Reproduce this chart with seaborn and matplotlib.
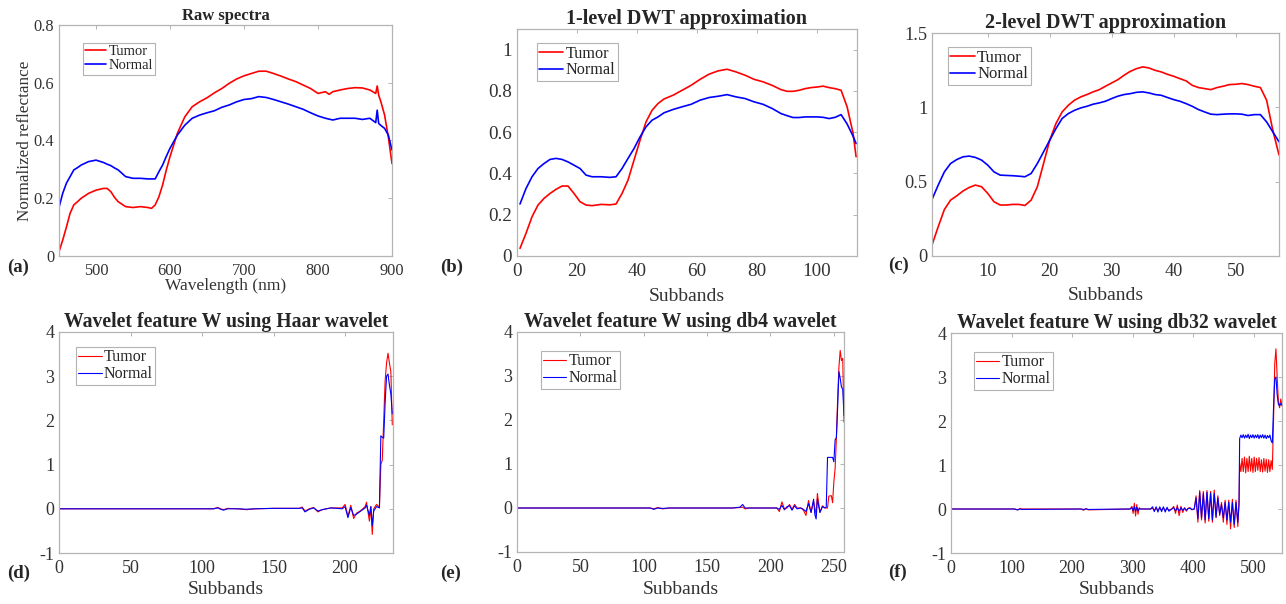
import numpy as np
import pandas as pd
import matplotlib
matplotlib.use("Agg")
import matplotlib.pyplot as plt
from matplotlib.ticker import FuncFormatter
import seaborn as sns

sns.set_style("white")
plt.rcParams['font.family'] = ['Liberation Serif', 'DejaVu Serif']
plt.rcParams['axes.unicode_minus'] = False

### data

# (a) raw spectra
a_wl = [450, 455, 460, 465, 470, 475, 480, 490, 500, 510,
        515, 520, 525, 530, 540, 550, 560, 570, 575, 580,
        585, 590, 595, 600, 610, 620, 630, 640, 650, 660,
        670, 680, 690, 700, 710, 720, 730, 740, 750, 760,
        770, 780, 790, 800, 810, 815, 820, 830, 840, 850,
        860, 870, 878, 880, 882, 885, 890, 895, 900]
a_tumor = [0.015, 0.055, 0.10, 0.148, 0.177, 0.188, 0.20, 0.217, 0.228, 0.234,
           0.234, 0.223, 0.203, 0.188, 0.171, 0.168, 0.171, 0.168, 0.165, 0.177,
           0.205, 0.246, 0.298, 0.344, 0.425, 0.482, 0.517, 0.534, 0.548, 0.565,
           0.58, 0.598, 0.613, 0.624, 0.632, 0.64, 0.64, 0.632, 0.623, 0.613,
           0.604, 0.592, 0.58, 0.563, 0.569, 0.56, 0.569, 0.575, 0.58, 0.583,
           0.582, 0.575, 0.563, 0.589, 0.557, 0.534, 0.488, 0.413, 0.32]
a_normal = [0.168, 0.217, 0.252, 0.275, 0.298, 0.306, 0.315, 0.327, 0.332, 0.324,
            0.318, 0.313, 0.305, 0.298, 0.275, 0.269, 0.269, 0.267, 0.267, 0.267,
            0.292, 0.315, 0.345, 0.373, 0.419, 0.453, 0.477, 0.488, 0.496, 0.503,
            0.515, 0.523, 0.534, 0.542, 0.545, 0.552, 0.549, 0.542, 0.534, 0.526,
            0.517, 0.508, 0.496, 0.485, 0.477, 0.474, 0.471, 0.477, 0.477, 0.477,
            0.473, 0.477, 0.462, 0.505, 0.459, 0.452, 0.442, 0.419, 0.367]

# (b) 1-level approximation
b_x = [1, 3, 5, 7, 9, 11, 13, 15, 17, 19,
       21, 23, 25, 28, 31, 33, 35, 37, 39, 41,
       43, 45, 47, 49, 52, 55, 58, 61, 64, 67,
       70, 73, 76, 79, 82, 85, 88, 90, 92, 94,
       96, 98, 100, 102, 104, 106, 108, 110, 112, 113]
b_tumor = [0.037, 0.11, 0.19, 0.247, 0.279, 0.303, 0.323, 0.339, 0.339, 0.303,
           0.263, 0.247, 0.244, 0.25, 0.248, 0.252, 0.303, 0.368, 0.465, 0.561,
           0.65, 0.706, 0.739, 0.761, 0.779, 0.803, 0.827, 0.856, 0.881, 0.897,
           0.905, 0.892, 0.876, 0.856, 0.844, 0.827, 0.806, 0.798, 0.798, 0.803,
           0.811, 0.816, 0.819, 0.823, 0.816, 0.811, 0.803, 0.723, 0.594, 0.481]
b_normal = [0.252, 0.327, 0.384, 0.424, 0.448, 0.468, 0.473, 0.468, 0.456, 0.44,
            0.424, 0.392, 0.384, 0.384, 0.381, 0.384, 0.424, 0.473, 0.521, 0.577,
            0.626, 0.658, 0.674, 0.694, 0.71, 0.723, 0.735, 0.755, 0.768, 0.774,
            0.782, 0.771, 0.763, 0.747, 0.735, 0.715, 0.69, 0.68, 0.671, 0.671,
            0.674, 0.674, 0.674, 0.672, 0.666, 0.672, 0.685, 0.64, 0.58, 0.545]

# (c) 2-level approximation, subbands 1..57
c_x = list(range(1, 58))
c_tumor = [0.074, 0.197, 0.313, 0.376, 0.405, 0.437, 0.461, 0.477, 0.466, 0.421,
           0.365, 0.343, 0.343, 0.347, 0.347, 0.34, 0.376, 0.466, 0.622, 0.779,
           0.891, 0.969, 1.014, 1.048, 1.07, 1.086, 1.104, 1.119, 1.142, 1.164,
           1.186, 1.216, 1.242, 1.26, 1.272, 1.265, 1.249, 1.238, 1.222, 1.209,
           1.193, 1.178, 1.148, 1.133, 1.126, 1.119, 1.133, 1.142, 1.153, 1.155,
           1.16, 1.153, 1.142, 1.133, 1.048, 0.846, 0.68]
c_normal = [0.38, 0.477, 0.566, 0.622, 0.649, 0.667, 0.672, 0.663, 0.645, 0.611,
            0.566, 0.544, 0.542, 0.54, 0.537, 0.533, 0.555, 0.622, 0.70, 0.779,
            0.857, 0.925, 0.958, 0.98, 0.996, 1.007, 1.021, 1.03, 1.041, 1.059,
            1.075, 1.086, 1.092, 1.101, 1.104, 1.097, 1.086, 1.081, 1.066, 1.052,
            1.041, 1.025, 1.007, 0.985, 0.969, 0.954, 0.951, 0.954, 0.956, 0.956,
            0.954, 0.945, 0.951, 0.951, 0.902, 0.835, 0.768]

# (d) Haar wavelet feature
d_x = [0, 108, 111, 113, 115, 118, 125, 131, 137, 150,
       168, 170, 172, 175, 178, 181, 184, 190, 198, 200,
       202, 204, 206, 208, 211, 214, 215, 217, 218, 219,
       220, 222, 224, 225, 226, 227, 228, 229, 230, 231,
       232, 233]
d_tumor = [0, 0, 0.03, 0.0, -0.02, 0.01, 0.0, -0.02, 0.0, 0.01,
           0.01, 0.04, -0.05, 0.0, 0.03, -0.07, -0.02, 0.02, 0.02, 0.1,
           -0.17, 0.08, -0.22, -0.1, -0.04, 0.05, 0.15, -0.28, 0.05, -0.58,
           0.0, 0.1, 0.03, 1.0, 1.1, 2.0, 2.9, 3.3, 3.52, 3.3,
           3.1, 1.9]
d_normal = [0, 0, 0.02, -0.01, -0.03, 0.0, 0.0, -0.01, 0.0, 0.01,
            0.01, 0.02, -0.07, -0.01, 0.02, -0.05, -0.02, 0.02, 0.0, 0.05,
            -0.2, 0.03, -0.15, -0.12, -0.05, 0.02, 0.08, -0.15, 0.05, -0.38,
            -0.05, 0.05, 0.02, 1.65, 1.62, 1.6, 2.4, 3.0, 3.05, 2.8,
            2.6, 2.15]

# (e) db4 wavelet feature
e_x = [0, 105, 108, 111, 115, 120, 170, 176, 178, 180, 183, 205,
       207, 209, 211, 213, 215, 217, 219, 221, 224, 226,
       228, 230, 232, 234, 235, 236, 237, 239, 241, 243,
       244, 245, 246, 248, 249, 250, 251, 252, 253, 254, 255, 256, 257, 258]
e_tumor = [0, 0, -0.02, 0.01, -0.02, 0, 0, 0.01, 0.02, -0.02, 0, 0,
           -0.08, 0.14, -0.02, 0.0, 0.08, -0.03, 0.08, 0.0, 0.0, -0.05,
           -0.17, 0.17, -0.1, 0.15, 0.0, -0.15, 0.33, -0.1, 0.05, 0.0,
           0.0, 0.0, 0.27, 0.28, 0.12, 0.6, 0.9, 1.6, 2.5, 3.2, 3.58, 3.35, 3.4, 1.95]
e_normal = [0, 0, -0.03, 0.0, -0.01, 0, 0, 0.02, 0.08, 0.0, 0.0, 0,
            -0.03, 0.06, -0.04, 0.03, 0.05, -0.05, 0.05, -0.02, 0.0, -0.03,
            -0.08, 0.1, -0.1, 0.2, -0.15, -0.25, 0.2, -0.1, 0.03, 0.0,
            0.02, 1.15, 1.15, 1.15, 1.15, 1.05, 1.55, 1.6, 2.3, 3.1, 2.95, 2.75, 2.7, 2.1]

# (f) db32 wavelet feature
f_x = [0, 105, 110, 114, 118, 215, 219, 223, 227, 296,
       299, 301, 303, 305, 307, 309, 311, 313, 330,
       333, 336, 339, 342, 345, 348, 351, 354, 357, 360, 365,
       368, 371, 374, 377, 380, 383, 386, 389, 392, 395, 398, 402,
       405, 408, 411, 414, 417, 420, 423, 426, 429, 432, 435, 438, 441, 444,
       447, 450, 453, 456, 459, 462, 465, 468, 471, 474, 476,
       477, 479, 481, 483, 485, 487, 489, 491, 493, 495, 497, 499, 501, 503,
       505, 507, 509, 511, 513, 515, 517, 519, 521, 523, 525, 527, 529, 531,
       533, 535, 537, 539, 541, 543, 545, 547]
f_tumor = [0, 0, -0.02, 0.01, 0, 0, -0.03, 0.01, -0.02, 0,
           0.06, -0.1, 0.13, -0.16, 0.1, -0.12, 0.03, 0, 0,
           0.02, -0.03, 0.02, -0.03, 0.02, -0.02, 0.02, -0.03, 0.01, -0.02, 0,
           0.06, -0.1, 0.09, -0.15, 0.06, -0.08, 0.03, -0.05, 0.02, 0.03, -0.02, 0,
           0.3, -0.3, 0.42, -0.25, 0.4, -0.32, 0.42, -0.28, 0.4, -0.3, 0.43, -0.2, 0.3, -0.15,
           0.15, -0.3, 0.2, -0.35, 0.2, -0.45, 0.22, -0.42, 0.2, -0.4, 0.2,
           1.05, 0.85, 1.15, 0.85, 1.18, 0.82, 1.15, 0.85, 1.2, 0.86, 1.15, 0.83, 1.18, 0.85,
           1.15, 0.88, 1.17, 0.85, 1.12, 0.84, 1.15, 0.86, 1.13, 0.83, 1.12, 0.85, 1.1, 0.9,
           2.0, 3.3, 3.64, 3.0, 2.45, 2.3, 2.5, 2.35]
f_normal = [0, 0, -0.02, 0.0, -0.01, 0, -0.01, 0.0, -0.01, 0,
            0.03, -0.04, 0.05, -0.05, 0.04, -0.04, 0.01, 0, 0,
            0.05, -0.06, 0.05, -0.07, 0.05, -0.06, 0.05, -0.07, 0.04, -0.05, 0,
            0.03, -0.04, 0.03, -0.05, 0.03, -0.03, 0.02, -0.03, 0.01, 0.02, -0.01, 0,
            0.25, -0.22, 0.38, -0.2, 0.35, -0.25, 0.38, -0.22, 0.36, -0.25, 0.35, -0.18, 0.25, -0.12,
            0.1, -0.2, 0.15, -0.25, 0.15, -0.3, 0.15, -0.35, 0.15, -0.3, 0.1,
            1.6, 1.68, 1.62, 1.69, 1.61, 1.68, 1.62, 1.7, 1.6, 1.68, 1.62, 1.69, 1.61, 1.68,
            1.62, 1.69, 1.6, 1.68, 1.62, 1.69, 1.61, 1.68, 1.6, 1.67, 1.62, 1.68, 1.55, 1.5,
            2.3, 2.95, 3.0, 2.6, 2.38, 2.35, 2.4, 2.35]


W, H = 1286, 604
fig = plt.figure(figsize=(W / 100, H / 100), dpi=100)
frame_col = '#b4b4b4'
text_col = '#333333'


def px_axes(left, top, right, bottom):
    return fig.add_axes([left / W, 1 - bottom / H, (right - left) / W, (bottom - top) / H])


"""
One panel: both spectra drawn with seaborn, MATLAB-like boxed axes.
"""
def draw_panel(rect, x, tumor, normal, lw, xlim, ylim, xticks, yticks,
               title, title_fs, tick_fs, leg_xy, leg_fs, xlabel, xlabel_y, label_fs):
    ax = px_axes(*rect)
    n = len(x)
    df = pd.DataFrame({'x': list(x) * 2,
                       'y': list(tumor) + list(normal),
                       'tissue': ['Tumor'] * n + ['Normal'] * n})
    sns.lineplot(data=df, x='x', y='y', hue='tissue', hue_order=['Tumor', 'Normal'],
                 palette={'Tumor': '#ff0000', 'Normal': '#0000ff'},
                 estimator=None, sort=False, linewidth=lw, ax=ax)

    ax.set_xlim(*xlim)
    ax.set_ylim(*ylim)
    ax.set_xticks(xticks)
    ax.set_yticks(yticks)
    ax.xaxis.set_major_formatter(FuncFormatter(lambda v, p: '%g' % v))
    ax.yaxis.set_major_formatter(FuncFormatter(lambda v, p: '%g' % v))
    ax.tick_params(direction='in', length=3, width=0.7, color=frame_col,
                   labelcolor=text_col, labelsize=tick_fs, top=True, right=True)
    ax.tick_params(axis='x', pad=5)
    ax.tick_params(axis='y', pad=3.5)
    for s in ax.spines.values():
        s.set_color(frame_col)
        s.set_linewidth(0.9)

    ax.set_title(title, fontsize=title_fs, fontweight='bold', pad=3.5)
    ax.set_ylabel('')
    ax.set_xlabel(xlabel, fontsize=label_fs, color=text_col)
    ax.xaxis.set_label_coords(0.5, xlabel_y)

    sns.move_legend(ax, 'upper left', bbox_to_anchor=leg_xy, title=None,
                    frameon=True, fancybox=False, fontsize=leg_fs,
                    borderaxespad=0, borderpad=0.15, handlelength=1.45,
                    handletextpad=0.15, labelspacing=0.05)
    leg = ax.get_legend()
    leg.get_frame().set_edgecolor('#a0a0a0')
    leg.get_frame().set_linewidth(0.8)
    return ax


ax_a = draw_panel((59, 25, 392, 256), a_wl, a_tumor, a_normal, 1.2,
                  (450, 900), (0, 0.8), [500, 600, 700, 800, 900], [0, 0.2, 0.4, 0.6, 0.8],
                  'Raw spectra', 12, 11.8, (0.072, 0.922), 10.5,
                  'Wavelength (nm)', -0.095, 12.5)
ax_a.set_ylabel('Normalized reflectance', fontsize=12.3, color=text_col)
ax_a.yaxis.set_label_coords(-0.078, 0.5)

draw_panel((517, 29, 857, 256), b_x, b_tumor, b_normal, 1.2,
           (0, 113.3), (0, 1.1), [0, 20, 40, 60, 80, 100], [0, 0.2, 0.4, 0.6, 0.8, 1],
           '1-level DWT approximation', 14.5, 13.8, (0.059, 0.938), 11.7,
           'Subbands', -0.14, 14)

draw_panel((932, 33, 1279, 256), c_x, c_tumor, c_normal, 1.2,
           (1, 57), (0, 1.5), [10, 20, 30, 40, 50], [0, 0.5, 1, 1.5],
           '2-level DWT approximation', 14.5, 13.2, (0.046, 0.937), 12,
           'Subbands', -0.14, 14)

draw_panel((59, 332, 393, 553), d_x, d_tumor, d_normal, 0.8,
           (0, 233.5), (-1, 4), [0, 50, 100, 150, 200], [-1, 0, 1, 2, 3, 4],
           'Wavelet feature W using Haar wavelet', 14.2, 13, (0.051, 0.932), 11.5,
           'Subbands', -0.125, 14)

draw_panel((517, 332, 844, 552), e_x, e_tumor, e_normal, 0.8,
           (0, 258), (-1, 4), [0, 50, 100, 150, 200, 250], [-1, 0, 1, 2, 3, 4],
           'Wavelet feature W using db4 wavelet', 14.2, 13, (0.073, 0.914), 11.5,
           'Subbands', -0.13, 14)

draw_panel((951, 333, 1282, 553), f_x, f_tumor, f_normal, 0.8,
           (0, 547), (-1, 4), [0, 100, 200, 300, 400, 500], [-1, 0, 1, 2, 3, 4],
           'Wavelet feature W using db32 wavelet', 14.1, 13, (0.069, 0.914), 11.5,
           'Subbands', -0.125, 14)

# panel letters
for tag, (tx, ty) in zip(['(a)', '(b)', '(c)', '(d)', '(e)', '(f)'],
                         [(7, 272), (440, 272), (888, 270), (7, 578), (440, 578), (888, 577)]):
    fig.text(tx / W, 1 - ty / H, tag, fontsize=13.5, fontweight='bold', ha='left', va='baseline')

fig.savefig('out.png', dpi=100, facecolor='white')
